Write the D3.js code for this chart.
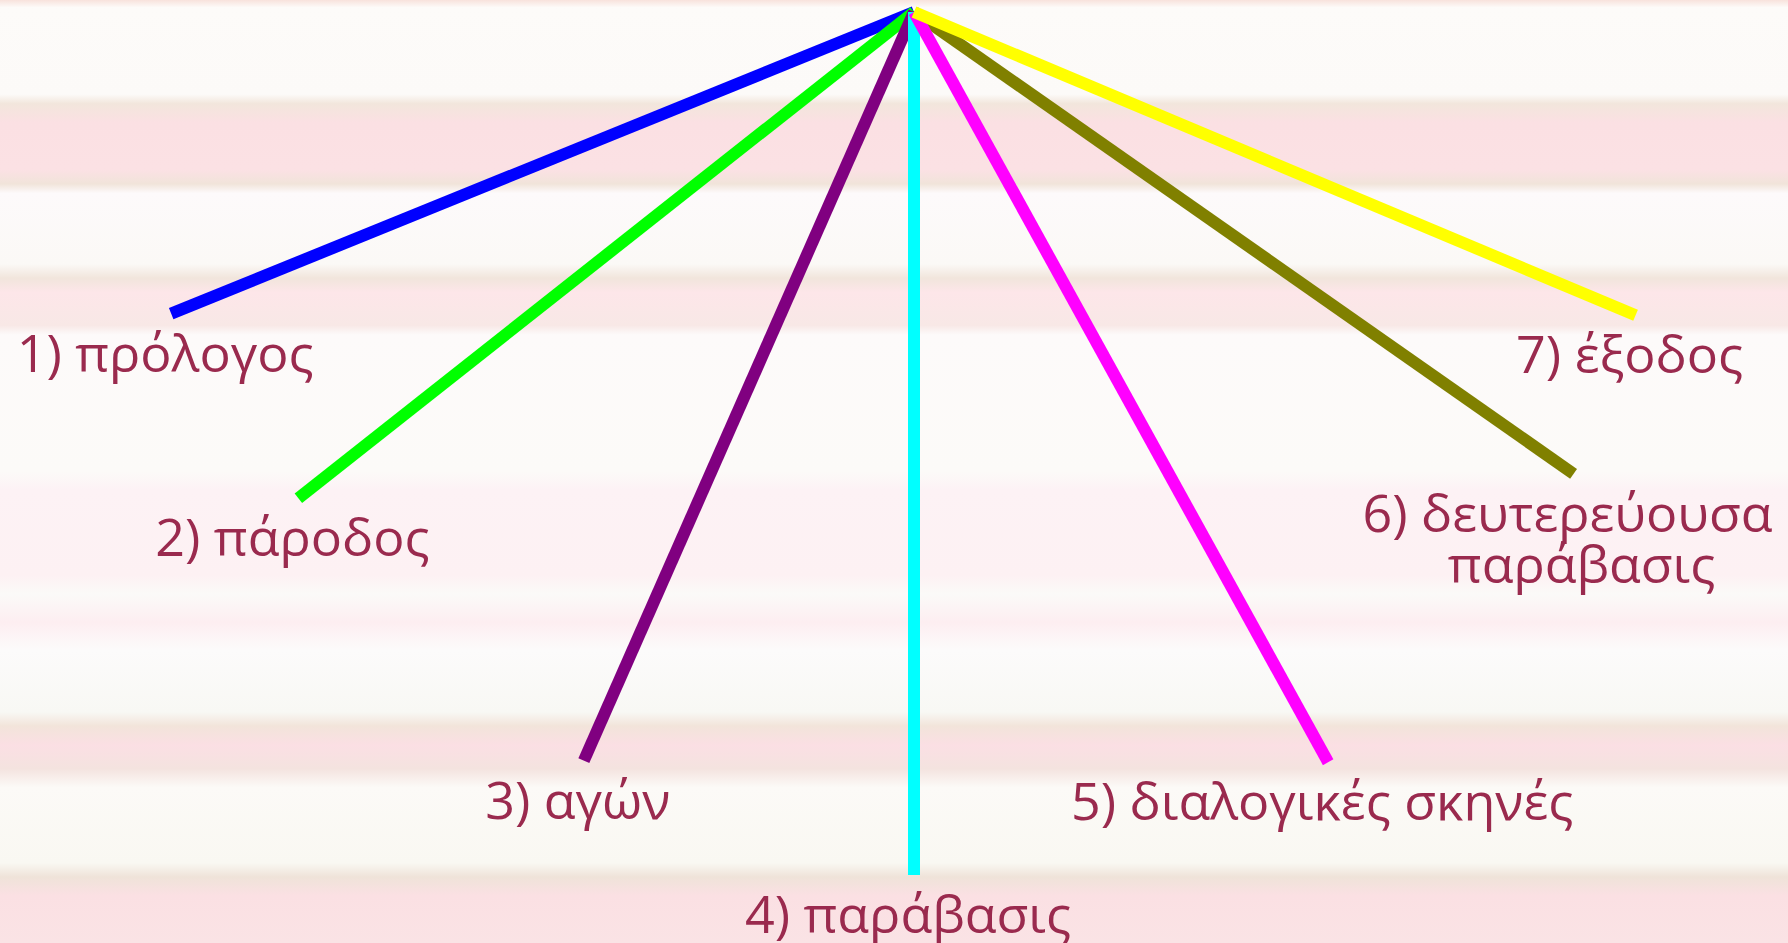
<!DOCTYPE html>
<html>
<head>
<meta charset="utf-8">
<script src="https://cdn.jsdelivr.net/npm/d3@7"></script>
<style>
  html, body { margin: 0; padding: 0; overflow: hidden; }
  svg { display: block; }
</style>
</head>
<body>
<svg id="chart" width="1788" height="943"></svg>
<script>
// parts of the comedy, one spoke each
const labels = [
  ["1) πρόλογος"],
  ["2) πάροδος"],
  ["3) αγών"],
  ["4) παράβασις"],
  ["5) διαλογικές σκηνές"],
  ["6) δευτερεύουσα", "παράβασις"],
  ["7) έξοδος"]
];
// angle from straight down, degrees (negative = left)
const angles = [-67.9, -51.7, -23.8, 0, 28.9, 55.0, 67.2];
// spoke length, relative to the vertical one (=100)
const lengths = [92.9, 90.9, 94.8, 100, 99.3, 93.3, 90.7];
const colors = ["#0000ff", "#00ff00", "#800080", "#00ffff", "#ff00ff", "#808000", "#ffff00"];

const svg = d3.select("#chart"),
  width = +svg.attr("width"),
  height = +svg.attr("height");

const apex = { x: 914, y: 12 };

// background stripes
const bgStops = [
  [0, "#f8e2dc"], [0.008, "#fdfbf9"], [0.1, "#fcfaf8"], [0.11, "#f2e6dc"],
  [0.13, "#fbe0e3"], [0.18, "#fbe1e4"], [0.195, "#f1e4da"], [0.205, "#fdfafb"],
  [0.28, "#fbf9f6"], [0.295, "#f1e5dc"], [0.31, "#fde6e9"], [0.345, "#f8e8e6"],
  [0.355, "#fdfafa"], [0.5, "#fcfaf8"], [0.52, "#fdf2f5"], [0.61, "#fdf1f3"],
  [0.63, "#fbfaf8"], [0.66, "#fdeef1"], [0.69, "#fcfbfb"], [0.755, "#f8f8f4"],
  [0.77, "#f2e4da"], [0.79, "#fbdfe4"], [0.815, "#f4e3df"], [0.835, "#fcfaf7"],
  [0.915, "#f9f8f2"], [0.93, "#efe3d9"], [0.95, "#fbe0e3"], [1, "#fae3e5"]
];

const grad = svg.append("defs").append("linearGradient")
  .attr("id", "bg").attr("x1", 0).attr("y1", 0).attr("x2", 0).attr("y2", 1);
grad.selectAll("stop").data(bgStops).join("stop")
  .attr("offset", (d) => d[0]).attr("stop-color", (d) => d[1]);

svg.append("rect").attr("width", width).attr("height", height).attr("fill", "url(#bg)");

const r = d3.scaleLinear().domain([0, 100]).range([0, 863]);

const data = labels.map((l, i) => {
  const a = (angles[i] * Math.PI) / 180;
  const len = r(lengths[i]);
  return {
    lines: l,
    color: colors[i],
    x2: apex.x + Math.sin(a) * len,
    y2: apex.y + Math.cos(a) * len
  };
});

const g = svg.append("g");

// draw order roughly as seen at the apex
const order = [0, 1, 2, 5, 3, 4, 6];
g.selectAll("line")
  .data(order.map((i) => data[i]))
  .join("line")
  .attr("x1", apex.x)
  .attr("y1", apex.y)
  .attr("x2", (d) => d.x2)
  .attr("y2", (d) => d.y2)
  .attr("stroke", (d) => d.color)
  .attr("stroke-width", 12)
  .attr("stroke-linecap", "butt");

const text = g.selectAll("text.label")
  .data(data)
  .join("text")
  .attr("class", "label")
  .attr("text-anchor", "middle")
  .attr("font-family", "'Open Sans', 'Noto Sans', sans-serif")
  .attr("font-size", "52px")
  .attr("fill", "#9a2a4e")
  .attr("x", (d) => d.x2 - 6)
  .attr("y", (d) => d.y2 + 58);

text.selectAll("tspan")
  .data((d) => d.lines.map((t, j) => ({ t, j, x: d.x2 - 6 })))
  .join("tspan")
  .attr("x", (d) => d.x + (d.j > 0 ? 14 : 0))
  .attr("dy", (d) => (d.j > 0 ? 51 : 0))
  .text((d) => d.t);
</script>
</body>
</html>
